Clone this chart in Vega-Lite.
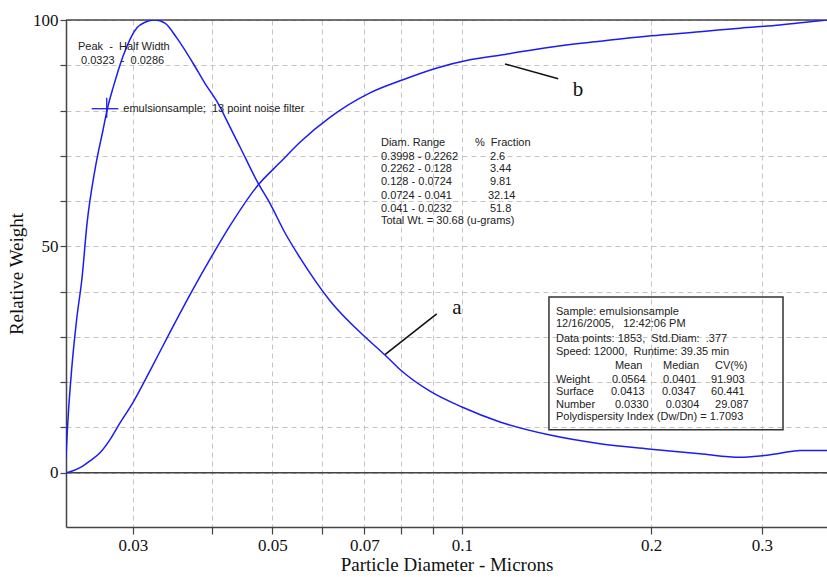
{
  "$schema": "https://vega.github.io/schema/vega-lite/v6.json",
  "width": 761,
  "height": 507,
  "autosize": {"type": "none"},
  "padding": {"left": 66, "top": 20, "right": 0, "bottom": 50},
  "background": "white",
  "config": {
    "view": {"stroke": null},
    "axis": {
      "labelFont": "Liberation Serif",
      "labelFontSize": 17,
      "labelColor": "#111111",
      "titleFont": "Liberation Serif",
      "titleFontSize": 19,
      "titleFontWeight": "normal",
      "titleColor": "#111111",
      "domainColor": "#444444",
      "domainWidth": 1.5,
      "tickColor": "#444444",
      "tickWidth": 1.2,
      "gridColor": "#c4c4c4",
      "gridDash": [5, 4],
      "gridWidth": 1
    }
  },
  "datasets": {
    "curves": [
      {"s": "a", "d": 0.02348, "w": 3.3},
      {"s": "a", "d": 0.023568, "w": 8},
      {"s": "a", "d": 0.023681, "w": 13},
      {"s": "a", "d": 0.023977, "w": 23},
      {"s": "a", "d": 0.02442, "w": 34},
      {"s": "a", "d": 0.024898, "w": 43},
      {"s": "a", "d": 0.025358, "w": 55},
      {"s": "a", "d": 0.026112, "w": 67},
      {"s": "a", "d": 0.026888, "w": 75.7},
      {"s": "a", "d": 0.027384, "w": 81},
      {"s": "a", "d": 0.02789, "w": 85},
      {"s": "a", "d": 0.028929, "w": 92},
      {"s": "a", "d": 0.030443, "w": 98.3},
      {"s": "a", "d": 0.031348, "w": 99.5},
      {"s": "a", "d": 0.032517, "w": 100},
      {"s": "a", "d": 0.033727, "w": 99.3},
      {"s": "a", "d": 0.035241, "w": 96},
      {"s": "a", "d": 0.037366, "w": 90.5},
      {"s": "a", "d": 0.039045, "w": 86},
      {"s": "a", "d": 0.040798, "w": 82},
      {"s": "a", "d": 0.042781, "w": 76.4},
      {"s": "a", "d": 0.044377, "w": 72},
      {"s": "a", "d": 0.047407, "w": 64},
      {"s": "a", "d": 0.049537, "w": 59.5},
      {"s": "a", "d": 0.05233, "w": 53},
      {"s": "a", "d": 0.055284, "w": 47.5},
      {"s": "a", "d": 0.061701, "w": 38},
      {"s": "a", "d": 0.070407, "w": 29.8},
      {"s": "a", "d": 0.075469, "w": 26},
      {"s": "a", "d": 0.079725, "w": 22.8},
      {"s": "a", "d": 0.088977, "w": 18},
      {"s": "a", "d": 0.10003, "w": 14.5},
      {"s": "a", "d": 0.11497, "w": 11.2},
      {"s": "a", "d": 0.13805, "w": 8.3},
      {"s": "a", "d": 0.16581, "w": 6.4},
      {"s": "a", "d": 0.19983, "w": 5.2},
      {"s": "a", "d": 0.23917, "w": 4.2},
      {"s": "a", "d": 0.27686, "w": 3.4},
      {"s": "a", "d": 0.29782, "w": 3.7},
      {"s": "a", "d": 0.32045, "w": 4.3},
      {"s": "a", "d": 0.34476, "w": 4.9},
      {"s": "a", "d": 0.3806, "w": 4.9},
      {"s": "b", "d": 0.02348, "w": 0},
      {"s": "b", "d": 0.023829, "w": 0.2},
      {"s": "b", "d": 0.024717, "w": 1.1},
      {"s": "b", "d": 0.025638, "w": 2.6},
      {"s": "b", "d": 0.026594, "w": 4.4},
      {"s": "b", "d": 0.027585, "w": 7.3},
      {"s": "b", "d": 0.028613, "w": 11},
      {"s": "b", "d": 0.03, "w": 15.5},
      {"s": "b", "d": 0.031927, "w": 22.5},
      {"s": "b", "d": 0.03435, "w": 31},
      {"s": "b", "d": 0.037366, "w": 40.5},
      {"s": "b", "d": 0.039912, "w": 47.5},
      {"s": "b", "d": 0.042781, "w": 54.5},
      {"s": "b", "d": 0.047407, "w": 63.5},
      {"s": "b", "d": 0.051382, "w": 68.5},
      {"s": "b", "d": 0.055284, "w": 73},
      {"s": "b", "d": 0.061701, "w": 78.5},
      {"s": "b", "d": 0.071447, "w": 83.9},
      {"s": "b", "d": 0.080605, "w": 86.8},
      {"s": "b", "d": 0.091288, "w": 89.4},
      {"s": "b", "d": 0.10301, "w": 91.2},
      {"s": "b", "d": 0.11709, "w": 92.4},
      {"s": "b", "d": 0.13805, "w": 94},
      {"s": "b", "d": 0.16581, "w": 95.3},
      {"s": "b", "d": 0.19983, "w": 96.5},
      {"s": "b", "d": 0.23917, "w": 97.4},
      {"s": "b", "d": 0.27686, "w": 98.2},
      {"s": "b", "d": 0.32045, "w": 98.9},
      {"s": "b", "d": 0.35763, "w": 99.6},
      {"s": "b", "d": 0.3806, "w": 100}
    ],
    "notes": [
      {"d": 0.024536, "w": 94.1, "t": "Peak\u00a0\u00a0-\u00a0\u00a0Half Width"},
      {"d": 0.024807, "w": 90.9, "t": "0.0323\u00a0\u00a0-\u00a0\u00a00.0286"},
      {"d": 0.028961, "w": 80.4, "t": "emulsionsample;\u00a0\u00a013 point noise filter"},
      {"d": 0.07437, "w": 72.8, "t": "Diam. Range"},
      {"d": 0.10491, "w": 72.8, "t": "%\u00a0\u00a0Fraction"},
      {"d": 0.07437, "w": 69.8, "t": "0.3998 - 0.2262"},
      {"d": 0.1108, "w": 69.8, "t": "2.6"},
      {"d": 0.07437, "w": 67.0, "t": "0.2262 - 0.128"},
      {"d": 0.1108, "w": 67.0, "t": "3.44"},
      {"d": 0.07437, "w": 64.2, "t": "0.128 - 0.0724"},
      {"d": 0.1108, "w": 64.2, "t": "9.81"},
      {"d": 0.07437, "w": 61.2, "t": "0.0724 - 0.041"},
      {"d": 0.11, "w": 61.2, "t": "32.14"},
      {"d": 0.07437, "w": 58.3, "t": "0.041 - 0.0232"},
      {"d": 0.1108, "w": 58.3, "t": "51.8"},
      {"d": 0.07437, "w": 55.6, "t": "Total Wt. = 30.68 (u-grams)"},
      {"d": 0.14111, "w": 35.4, "t": "Sample: emulsionsample"},
      {"d": 0.14111, "w": 32.8, "t": "12/16/2005,\u00a0\u00a0\u00a012:42:06 PM"},
      {"d": 0.14111, "w": 29.5, "t": "Data points: 1853,\u00a0\u00a0Std.Diam:\u00a0\u00a0.377"},
      {"d": 0.14111, "w": 26.7, "t": "Speed: 12000,\u00a0\u00a0Runtime: 39.35 min"},
      {"d": 0.17513, "w": 23.6, "t": "Mean"},
      {"d": 0.2088, "w": 23.6, "t": "Median"},
      {"d": 0.25265, "w": 23.6, "t": "CV(%)"},
      {"d": 0.14111, "w": 20.5, "t": "Weight"},
      {"d": 0.17325, "w": 20.5, "t": "0.0564"},
      {"d": 0.2088, "w": 20.5, "t": "0.0401"},
      {"d": 0.24898, "w": 20.5, "t": "91.903"},
      {"d": 0.14111, "w": 17.8, "t": "Surface"},
      {"d": 0.17262, "w": 17.8, "t": "0.0413"},
      {"d": 0.20804, "w": 17.8, "t": "0.0347"},
      {"d": 0.24898, "w": 17.8, "t": "60.441"},
      {"d": 0.14111, "w": 15.0, "t": "Number"},
      {"d": 0.17513, "w": 15.0, "t": "0.0330"},
      {"d": 0.21086, "w": 15.0, "t": "0.0304"},
      {"d": 0.25265, "w": 15.0, "t": "29.087"},
      {"d": 0.14111, "w": 12.2, "t": "Polydispersity Index (Dw/Dn) = 1.7093"}
    ],
    "letters": [
      {"d": 0.15296, "w": 84.6, "t": "b"},
      {"d": 0.09822, "w": 36.4, "t": "a"}
    ],
    "borders": [
      {"w": 0},
      {"w": 100}
    ],
    "pointers": [
      {"d": 0.11709, "w": 90.3, "d2": 0.1423, "w2": 87.0},
      {"d": 0.075469, "w": 26.1, "d2": 0.0912, "w2": 35.1}
    ],
    "legendmark": [
      {"d": 0.025798, "w": 80.4, "d2": 0.028436, "w2": 80.4},
      {"d": 0.027254, "w": 82.8, "d2": 0.027254, "w2": 78.4}
    ],
    "box": [
      {"d": 0.13755, "w": 38.8, "d2": 0.32399, "w2": 9.5}
    ]
  },
  "encoding": {
    "x": {
      "field": "d",
      "type": "quantitative",
      "title": "Particle Diameter - Microns",
      "scale": {"type": "log", "domain": [0.02348, 0.3806], "nice": false},
      "axis": {
        "values": [0.03, 0.04, 0.05, 0.06, 0.07, 0.08, 0.09, 0.1, 0.2, 0.3],
        "format": ".2~f",
        "labelExpr": "(datum.value == 0.04 || datum.value == 0.06 || datum.value == 0.08 || datum.value == 0.09) ? '' : datum.label",
        "tickSize": 7,
        "labelPadding": 3,
        "titlePadding": 2,
        "grid": true,
        "labelFlush": false,
        "labelOverlap": false
      }
    },
    "y": {
      "field": "w",
      "type": "quantitative",
      "title": "Relative Weight",
      "scale": {"domain": [-12, 100], "nice": false, "zero": false},
      "axis": {
        "values": [0, 10, 20, 30, 40, 50, 60, 70, 80, 90, 100],
        "format": "d",
        "labelExpr": "datum.value % 50 === 0 ? datum.label : ''",
        "tickSize": 6,
        "labelPadding": 2,
        "titlePadding": 6,
        "grid": true,
        "labelFlush": false,
        "labelOverlap": false
      }
    }
  },
  "layer": [
    {
      "data": {"name": "borders"},
      "mark": {"type": "rule", "color": "#444444", "strokeWidth": 1.6},
      "encoding": {"x": null}
    },
    {
      "data": {"name": "box"},
      "mark": {"type": "rect", "fill": null, "fillOpacity": 0, "stroke": "#333333", "strokeWidth": 1.5},
      "encoding": {
        "x2": {"field": "d2"},
        "y2": {"field": "w2"}
      }
    },
    {
      "data": {"name": "pointers"},
      "mark": {"type": "rule", "color": "#111111", "strokeWidth": 1.6},
      "encoding": {
        "x2": {"field": "d2"},
        "y2": {"field": "w2"}
      }
    },
    {
      "data": {"name": "legendmark"},
      "mark": {"type": "rule", "color": "#1c1cf2", "strokeWidth": 1.3},
      "encoding": {
        "x2": {"field": "d2"},
        "y2": {"field": "w2"}
      }
    },
    {
      "data": {"name": "curves"},
      "mark": {"type": "line", "color": "#1c1cf2", "strokeWidth": 1.5, "clip": true, "interpolate": "monotone"},
      "encoding": {
        "detail": {"field": "s", "type": "nominal"}
      }
    },
    {
      "data": {"name": "notes"},
      "mark": {"type": "text", "font": "Liberation Sans", "fontSize": 11, "align": "left", "baseline": "middle", "color": "#222222"},
      "encoding": {
        "text": {"field": "t", "type": "nominal"}
      }
    },
    {
      "data": {"name": "letters"},
      "mark": {"type": "text", "font": "Liberation Serif", "fontSize": 21, "align": "center", "baseline": "middle", "color": "#111111"},
      "encoding": {
        "text": {"field": "t", "type": "nominal"}
      }
    }
  ]
}
